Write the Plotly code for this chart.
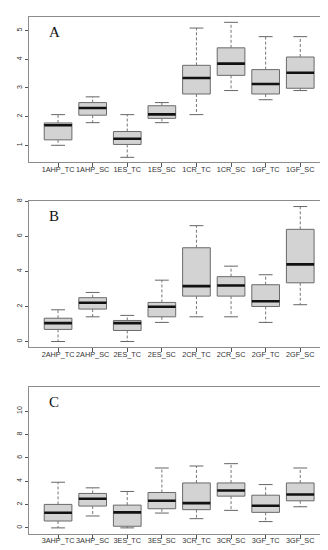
import plotly.graph_objects as go

# ---------------- data ----------------
labels_A = ["1AHP_TC", "1AHP_SC", "1ES_TC", "1ES_SC", "1CR_TC", "1CR_SC", "1GF_TC", "1GF_SC"]
lo_A  = [1.00, 1.79, 0.58, 1.79, 2.07, 2.91, 2.59, 2.91]
q1_A  = [1.19, 2.05, 1.03, 1.94, 2.79, 3.44, 2.79, 2.99]
med_A = [1.70, 2.30, 1.23, 2.08, 3.35, 3.85, 3.14, 3.53]
q3_A  = [1.78, 2.49, 1.48, 2.38, 3.79, 4.40, 3.64, 4.08]
hi_A  = [2.07, 2.69, 2.07, 2.49, 5.09, 5.29, 4.79, 4.79]

labels_B = ["2AHP_TC", "2AHP_SC", "2ES_TC", "2ES_SC", "2CR_TC", "2CR_SC", "2GF_TC", "2GF_SC"]
lo_B  = [0.00, 1.41, 0.00, 1.09, 1.41, 1.41, 1.09, 2.10]
q1_B  = [0.69, 1.85, 0.63, 1.41, 2.59, 2.59, 2.00, 3.35]
med_B = [1.05, 2.21, 1.05, 1.98, 3.16, 3.20, 2.30, 4.40]
q3_B  = [1.33, 2.50, 1.20, 2.23, 5.35, 3.70, 3.24, 6.40]
hi_B  = [1.81, 2.80, 1.49, 3.50, 6.61, 4.30, 3.81, 7.70]

labels_C = ["3AHP_TC", "3AHP_SC", "3ES_TC", "3ES_SC", "3CR_TC", "3CR_SC", "3GF_TC", "3GF_SC"]
lo_C  = [0.00, 1.02, 0.00, 1.27, 0.79, 1.50, 0.54, 1.81]
q1_C  = [0.59, 1.87, 0.14, 1.64, 1.56, 2.72, 1.33, 2.32]
med_C = [1.30, 2.49, 1.33, 2.32, 2.12, 3.20, 1.90, 2.86]
q3_C  = [2.01, 2.95, 1.95, 3.03, 3.85, 3.85, 2.80, 3.85]
hi_C  = [3.91, 3.43, 3.12, 5.13, 5.30, 5.50, 3.71, 5.13]

panel_letters = ["A", "B", "C"]
y_ticks = [[1, 2, 3, 4, 5], [0, 2, 4, 6, 8], [0, 2, 4, 6, 8, 10]]
y_ranges = [[0.407, 5.465], [-0.33, 8.0], [-0.48, 12.04]]

panels = [
    (labels_A, lo_A, q1_A, med_A, q3_A, hi_A),
    (labels_B, lo_B, q1_B, med_B, q3_B, hi_B),
    (labels_C, lo_C, q1_C, med_C, q3_C, hi_C),
]

# ---------------- styling / layout ----------------
W, H = 328, 550
y_domains = [[1 - 154.3 / H, 1 - 9.3 / H], [1 - 339.3 / H, 1 - 193.3 / H], [1 - 525.5 / H, 1 - 379.3 / H]]
x_domain = [21 / W, 322 / W]
BOX_W = 0.8
CAP_W = 0.4
FRAME = "#8c8c8c"
BOXLINE = "#6a6a6a"
FILL = "#d3d3d3"
TXT = "#333333"

fig = go.Figure()
layout = dict(
    width=W, height=H, margin=dict(l=0, r=0, t=0, b=0),
    paper_bgcolor="white", plot_bgcolor="white", showlegend=False,
    font=dict(family="Liberation Sans, Arial, sans-serif", color=TXT),
)
annotations = []

for p, (labels, lo, q1, med, q3, hi) in enumerate(panels):
    xa = "x" if p == 0 else f"x{p+1}"
    ya = "y" if p == 0 else f"y{p+1}"
    pos = list(range(1, len(labels) + 1))

    fig.add_trace(go.Box(
        x=pos, q1=q1, median=med, q3=q3, lowerfence=q1, upperfence=q3,
        width=BOX_W, fillcolor=FILL, line=dict(color=BOXLINE, width=1),
        whiskerwidth=0, boxpoints=False, hoverinfo="skip",
        xaxis=xa, yaxis=ya,
    ))

    # dashed whiskers
    wx, wy = [], []
    for i, xp in enumerate(pos):
        wx += [xp, xp, None, xp, xp, None]
        wy += [q3[i], hi[i], None, q1[i], lo[i], None]
    fig.add_trace(go.Scatter(x=wx, y=wy, mode="lines",
                             line=dict(color="#777777", width=1, dash="3px,2px"),
                             hoverinfo="skip", xaxis=xa, yaxis=ya))
    # caps
    cx, cy = [], []
    for i, xp in enumerate(pos):
        cx += [xp - CAP_W / 2, xp + CAP_W / 2, None, xp - CAP_W / 2, xp + CAP_W / 2, None]
        cy += [hi[i], hi[i], None, lo[i], lo[i], None]
    fig.add_trace(go.Scatter(x=cx, y=cy, mode="lines",
                             line=dict(color="#666666", width=1),
                             hoverinfo="skip", xaxis=xa, yaxis=ya))
    # medians
    mx, my = [], []
    for i, xp in enumerate(pos):
        mx += [xp - BOX_W / 2, xp + BOX_W / 2, None]
        my += [med[i], med[i], None]
    fig.add_trace(go.Scatter(x=mx, y=my, mode="lines",
                             line=dict(color="#111111", width=2.6),
                             hoverinfo="skip", xaxis=xa, yaxis=ya))

    xkey = "xaxis" if p == 0 else f"xaxis{p+1}"
    ykey = "yaxis" if p == 0 else f"yaxis{p+1}"
    layout[xkey] = dict(
        domain=x_domain, anchor=ya, range=[0.16, 8.86],
        tickvals=pos, ticktext=labels, ticks="outside", ticklen=4, tickcolor="#555",
        tickangle=0, tickfont=dict(size=7.3, color=TXT), ticklabelstandoff=-4,
        showgrid=False, zeroline=False, automargin=False,
        showline=True, mirror=True, linecolor=FRAME, linewidth=1,
    )
    layout[ykey] = dict(
        domain=y_domains[p], anchor=xa, range=y_ranges[p],
        tickvals=y_ticks[p], ticks="outside", ticklen=3, tickcolor="#555",
        tickangle=-90, tickfont=dict(size=7, color=TXT), showgrid=False, zeroline=False,
        automargin=False,
        showline=True, mirror=True, linecolor=FRAME, linewidth=1,
    )
    annotations.append(dict(
        text=panel_letters[p], xref=f"{xa} domain", yref=f"{ya} domain",
        x=0.06, y=0.97, xanchor="left", yanchor="top", showarrow=False,
        font=dict(family="Liberation Serif, Times New Roman, serif", size=15, color="#111"),
    ))

layout["annotations"] = annotations
fig.update_layout(**layout)
fig.write_html("out.html")
